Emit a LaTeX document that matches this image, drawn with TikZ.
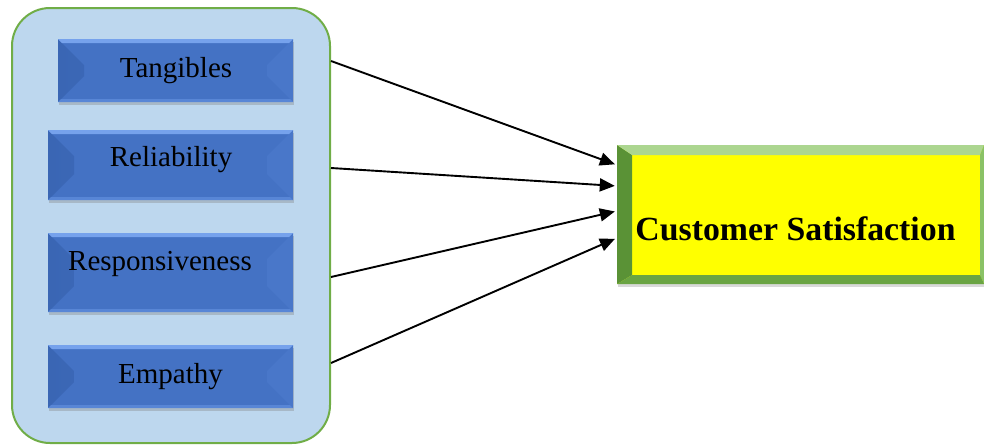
\documentclass[tikz,border=0pt]{standalone}
\usepackage{fontspec}
\setmainfont{Liberation Serif}
\usetikzlibrary{arrows.meta,shadows}
\definecolor{bmain}{HTML}{4472C4}
\definecolor{bleft}{HTML}{3A66B4}
\definecolor{bright}{HTML}{4977C9}
\definecolor{btop}{HTML}{76A2EC}
\definecolor{bbot}{HTML}{5886D6}
\definecolor{panel}{HTML}{BDD7EE}
\definecolor{gborder}{HTML}{70AD47}
\definecolor{gleft}{HTML}{5A9236}
\definecolor{gtop}{HTML}{ACD690}
\definecolor{gbot}{HTML}{6AA443}
\definecolor{gright}{HTML}{8AC266}
\definecolor{yel}{HTML}{FFFF00}
\tikzset{
  x=1pt, y=-1pt,
  panelbox/.style={draw=gborder, line width=2pt, fill=panel, rounded corners=38pt,
    inner sep=0pt, minimum width=318pt, minimum height=435pt},
  bluebevel/.style n args={2}{draw=none, fill=bmain, inner sep=0pt,
    minimum width=#1pt, minimum height=#2pt,
    drop shadow={shadow xshift=0.5pt, shadow yshift=-2.5pt, opacity=0.35},
    path picture={
      \shade[left color=bleft, right color=bmain]
        (path picture bounding box.north west)
        -- ([shift={(26pt,-26pt)}]path picture bounding box.north west)
        -- ([shift={(26pt,26pt)}]path picture bounding box.south west)
        -- (path picture bounding box.south west) -- cycle;
      \fill[bright]
        (path picture bounding box.north east)
        -- ([shift={(-26pt,-26pt)}]path picture bounding box.north east)
        -- ([shift={(-26pt,26pt)}]path picture bounding box.south east)
        -- (path picture bounding box.south east) -- cycle;
      \fill[btop]
        (path picture bounding box.north west)
        -- (path picture bounding box.north east)
        -- ([shift={(-4pt,-4pt)}]path picture bounding box.north east)
        -- ([shift={(4pt,-4pt)}]path picture bounding box.north west) -- cycle;
      \fill[bbot]
        (path picture bounding box.south west)
        -- (path picture bounding box.south east)
        -- ([shift={(-3pt,3pt)}]path picture bounding box.south east)
        -- ([shift={(3pt,3pt)}]path picture bounding box.south west) -- cycle;
    }},
  greenbevel/.style={draw=none, fill=yel, inner sep=0pt,
    minimum width=367pt, minimum height=139pt,
    drop shadow={shadow xshift=1pt, shadow yshift=-3pt, opacity=0.3},
    path picture={
      \fill[gleft]
        (path picture bounding box.north west)
        -- ([shift={(15pt,-10pt)}]path picture bounding box.north west)
        -- ([shift={(15pt,9pt)}]path picture bounding box.south west)
        -- (path picture bounding box.south west) -- cycle;
      \fill[gtop]
        (path picture bounding box.north west)
        -- (path picture bounding box.north east)
        -- ([shift={(-4pt,-10pt)}]path picture bounding box.north east)
        -- ([shift={(15pt,-10pt)}]path picture bounding box.north west) -- cycle;
      \fill[gright]
        (path picture bounding box.north east)
        -- ([shift={(-4pt,-10pt)}]path picture bounding box.north east)
        -- ([shift={(-4pt,9pt)}]path picture bounding box.south east)
        -- (path picture bounding box.south east) -- cycle;
      \fill[gbot]
        (path picture bounding box.south west)
        -- (path picture bounding box.south east)
        -- ([shift={(-4pt,9pt)}]path picture bounding box.south east)
        -- ([shift={(15pt,9pt)}]path picture bounding box.south west) -- cycle;
    }},
  lbl/.style={anchor=base, inner sep=0pt, font=\fontsize{29}{31}\selectfont},
  cslbl/.style={anchor=base, inner sep=0pt, font=\fontsize{33.8}{36}\selectfont\bfseries},
  arr/.style={line width=1.9pt, -{Triangle[length=15pt,width=13pt]}, shorten >=2pt}
}
\begin{document}
\begin{tikzpicture}
\useasboundingbox (0,0) rectangle (984,445);
\node[panelbox] (panel) at (171,225.5) {};
\node[bluebevel={235}{63}] (tang) at (175.5,70.5) {};
\node[bluebevel={245}{70}] (rel) at (170.5,165) {};
\node[bluebevel={245}{79}] (resp) at (170.5,272.5) {};
\node[bluebevel={245}{63}] (emp) at (170.5,376.5) {};
\node[lbl] (tangT) at (176,77) {Tangibles};
\node[lbl] (relT) at (171,166) {Reliability};
\node[lbl] (respT) at (160,270) {Responsiveness};
\node[lbl] (empT) at (170.5,383) {Empathy};
\node[greenbevel] (cs) at (800.5,214.5) {};
\node[cslbl] (csT) at (795.5,240) {Customer Satisfaction};
\draw[arr] ([yshift=164.5pt]panel.east) -- ([yshift=49.5pt]cs.west);
\draw[arr] ([yshift=57.5pt]panel.east) -- ([yshift=28.5pt]cs.west);
\draw[arr] ([yshift=-51.5pt]panel.east) -- ([yshift=3.5pt]cs.west);
\draw[arr] ([yshift=-137.5pt]panel.east) -- ([yshift=-23.5pt]cs.west);
\end{tikzpicture}
\end{document}
